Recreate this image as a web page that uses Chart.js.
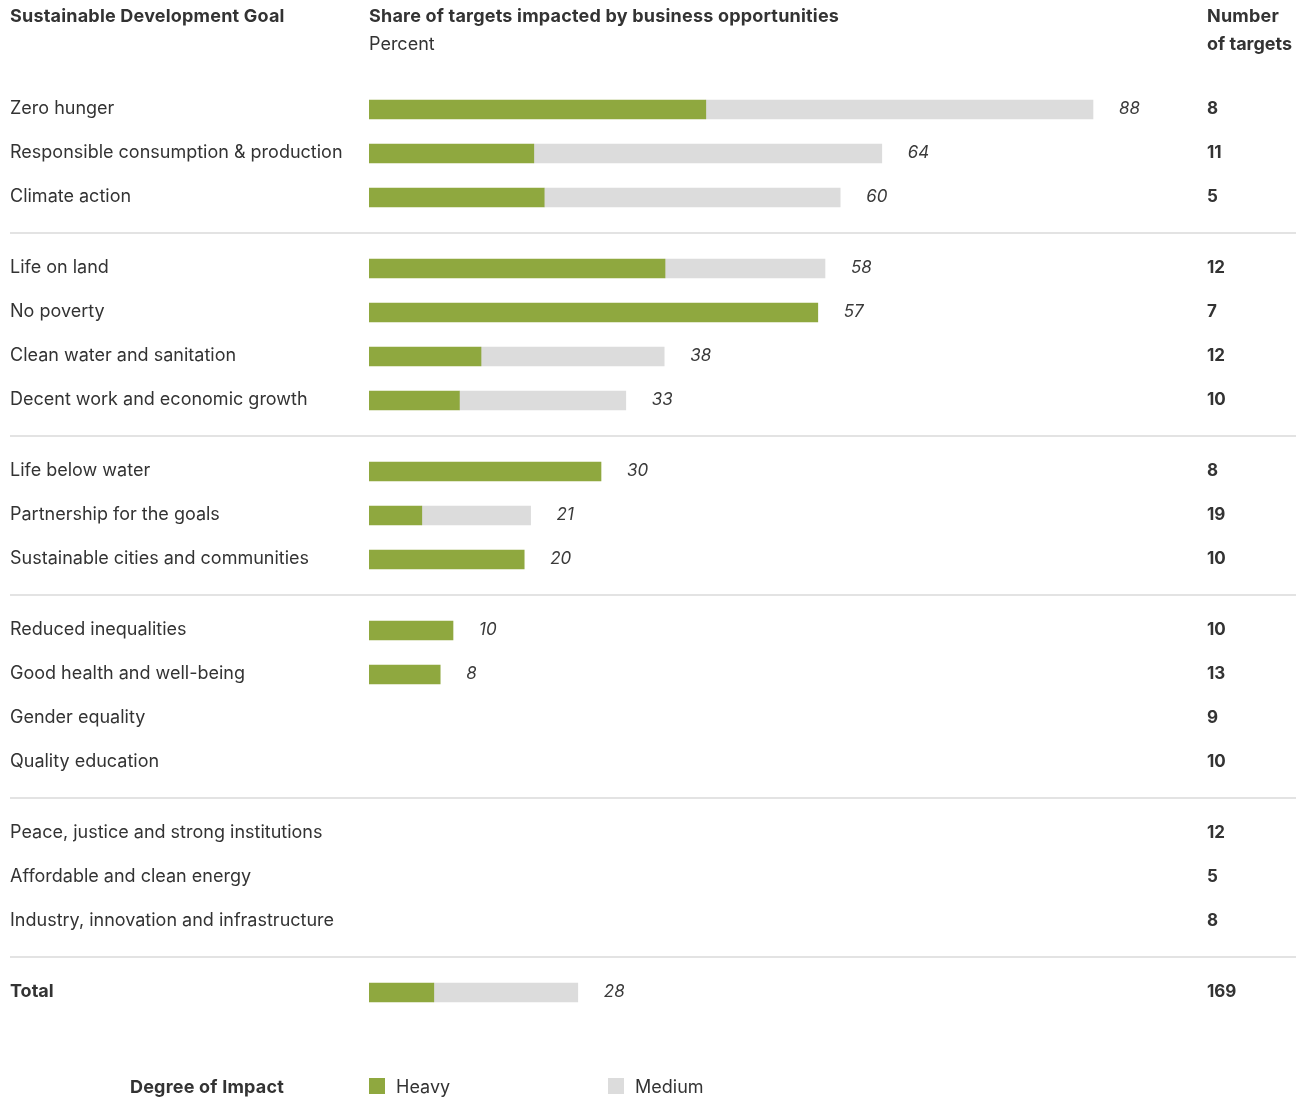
<!DOCTYPE html>
<html>
<head>
<meta charset="utf-8">
<script src="https://cdn.jsdelivr.net/npm/chart.js@4.4.1/dist/chart.umd.min.js"></script>
<style>
  html, body { margin: 0; padding: 0; background: #ffffff; }
  #wrap { width: 1311px; height: 1099px; position: relative; }
  canvas { display: block; }
</style>
</head>
<body>
<div id="wrap"><canvas id="c" width="1311" height="1099"></canvas></div>
<script>
// ---- Data ----
const goals = [
  "Zero hunger",
  "Responsible consumption & production",
  "Climate action",
  "Life on land",
  "No poverty",
  "Clean water and sanitation",
  "Decent work and economic growth",
  "Life below water",
  "Partnership for the goals",
  "Sustainable cities and communities",
  "Reduced inequalities",
  "Good health and well-being",
  "Gender equality",
  "Quality education",
  "Peace, justice and strong institutions",
  "Affordable and clean energy",
  "Industry, innovation and infrastructure",
  "Total"
];
const groups = [0,0,0,1,1,1,1,2,2,2,3,3,3,3,4,4,4,5];
const heavy  = [42.1, 20.6, 21.9, 37.0, 56.1, 14.0, 11.3, 29.0, 6.6, 19.4, 10.5, 8.9, null, null, null, null, null, 8.1];
const medium = [48.4, 43.5, 37.0, 20.0, null, 22.9, 20.8, null, 13.6, null, null, null, null, null, null, null, null, 18.0];
const shareLabels = ["88","64","60","58","57","38","33","30","21","20","10","8","","","","","","28"];
const targetCounts = ["8","11","5","12","7","12","10","8","19","10","10","13","9","10","12","5","8","169"];
const seriesNames = ["Heavy", "Medium"];
const seriesColors = ["#8fa83f", "#dcdcdc"];

// ---- Layout helpers ----
const GAP = 27 / 44;                     // extra space between groups, in row units
const rowPos = goals.map((g, i) => i + groups[i] * GAP);
const yMin = -0.5;
const yMax = rowPos[rowPos.length - 1] + 0.5;
const ROW_PX = 44;
const TOP = 87.5;
const BOTTOM_PAD = 1099 - TOP - (yMax - yMin) * ROW_PX;

const FONT = "Inter, 'Noto Sans', Roboto, sans-serif";
const TEXT = "#333333";

const textPlugin = {
  id: 'textPlugin',
  afterDatasetsDraw(chart) {
    const ctx = chart.ctx;
    const xs = chart.scales.x, ys = chart.scales.y;
    ctx.save();
    ctx.textBaseline = 'alphabetic';
    ctx.textAlign = 'left';
    ctx.fillStyle = TEXT;

    // headers
    ctx.font = "700 18px " + FONT;
    ctx.letterSpacing = "0.2px";
    ctx.fillText("Sustainable Development Goal", 10, 21.5);
    ctx.fillText("Share of targets impacted by business opportunities", 369, 21.5);
    ctx.fillText("Number", 1207, 21.5);
    ctx.letterSpacing = "0px";
    ctx.fillText("of targets", 1207, 50);
    ctx.font = "400 18px " + FONT;
    ctx.fillText("Percent", 369, 50);

    // separators
    ctx.strokeStyle = "#e3e3e3";
    ctx.lineWidth = 2;
    for (let i = 1; i < goals.length; i++) {
      if (groups[i] !== groups[i - 1]) {
        const y = (ys.getPixelForValue(rowPos[i]) + ys.getPixelForValue(rowPos[i - 1])) / 2;
        ctx.beginPath();
        ctx.moveTo(10, y);
        ctx.lineTo(1296, y);
        ctx.stroke();
      }
    }

    // rows
    goals.forEach((g, i) => {
      const yp = ys.getPixelForValue(rowPos[i]);
      const base = yp + 4.3;
      const isTotal = i === goals.length - 1;
      ctx.fillStyle = TEXT;
      ctx.font = (isTotal ? "700 " : "400 ") + "18px " + FONT;
      ctx.fillText(g, 10, base);
      ctx.font = "700 17px " + FONT;
      ctx.fillText(targetCounts[i], 1207, base);
      if (shareLabels[i]) {
        const total = (heavy[i] || 0) + (medium[i] || 0);
        const xp = xs.getPixelForValue(total) + 26;
        ctx.font = "italic 400 17px " + FONT;
        ctx.fillStyle = "#3a3a3a";
        ctx.fillText(shareLabels[i], xp, base);
      }
    });

    // legend
    ctx.fillStyle = TEXT;
    ctx.font = "700 18px " + FONT;
    ctx.letterSpacing = "0.2px";
    ctx.fillText("Degree of Impact", 130, 1092.5);
    ctx.letterSpacing = "0px";
    ctx.fillStyle = seriesColors[0];
    ctx.fillRect(369, 1078, 16, 16);
    ctx.fillStyle = seriesColors[1];
    ctx.fillRect(608, 1078, 16, 16);
    ctx.fillStyle = TEXT;
    ctx.font = "400 18px " + FONT;
    ctx.fillText(seriesNames[0], 396, 1092.5);
    ctx.fillText(seriesNames[1], 635, 1092.5);
    ctx.restore();
  }
};

new Chart(document.getElementById('c'), {
  type: 'bar',
  data: {
    datasets: [
      {
        label: seriesNames[0],
        data: heavy.map((v, i) => ({ x: v, y: rowPos[i] })),
        backgroundColor: seriesColors[0],
        barThickness: 19,
        borderWidth: 0
      },
      {
        label: seriesNames[1],
        data: medium.map((v, i) => ({ x: v, y: rowPos[i] })),
        backgroundColor: seriesColors[1],
        barThickness: 19,
        borderWidth: 0
      }
    ]
  },
  options: {
    indexAxis: 'y',
    responsive: false,
    animation: false,
    devicePixelRatio: 1,
    layout: { padding: { left: 369, right: 142, top: TOP, bottom: BOTTOM_PAD } },
    scales: {
      x: { type: 'linear', min: 0, max: 100, stacked: true, display: false, offset: false },
      y: { type: 'linear', min: yMin, max: yMax, reverse: true, stacked: true, display: false, offset: false }
    },
    plugins: {
      legend: { display: false },
      tooltip: { enabled: false }
    }
  },
  plugins: [textPlugin]
});
</script>
</body>
</html>
